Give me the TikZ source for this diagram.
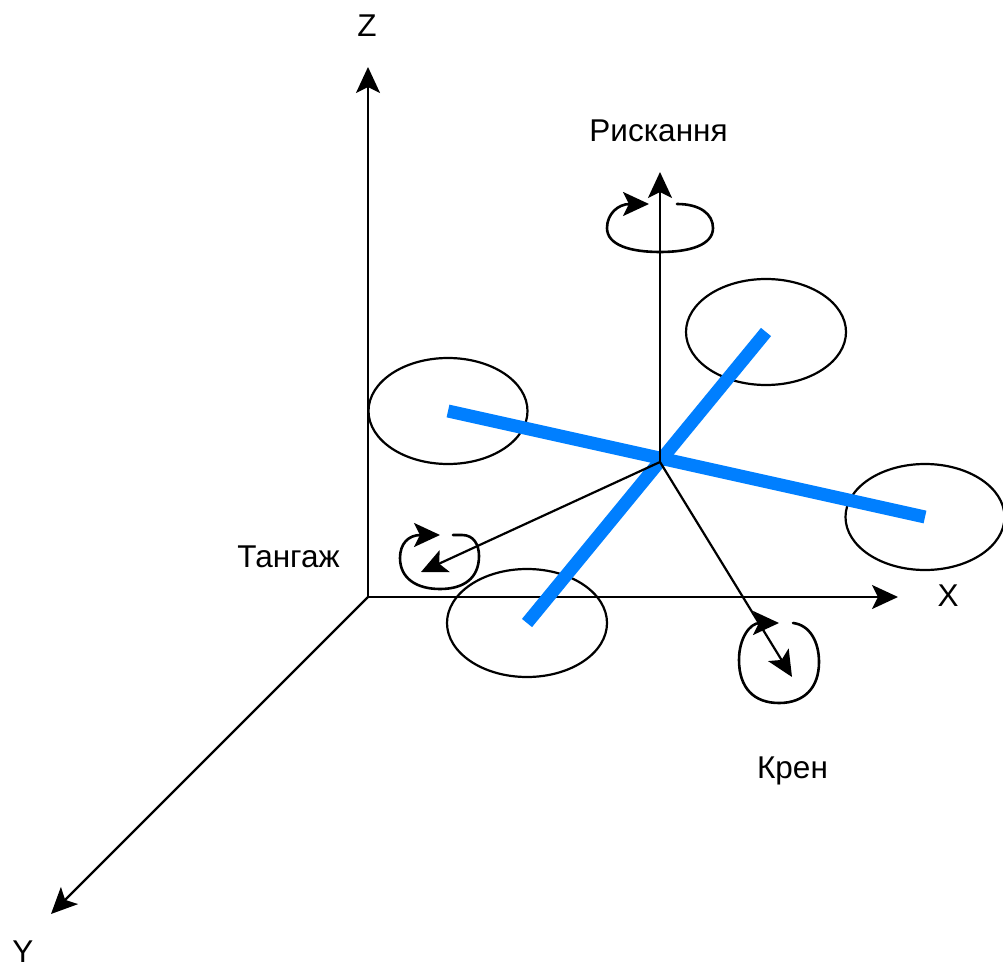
\documentclass[tikz,border=0pt]{standalone}
\usepackage{fontspec}
\setmainfont{Liberation Sans}
\usetikzlibrary{arrows.meta,shapes.geometric}
\definecolor{armblue}{HTML}{007FFF}
\tikzset{
  axisline/.style={line width=2.2pt,black,-{Stealth[length=26pt,width=24pt,inset=6pt]}},
  loopline/.style={line width=2.6pt,black,line cap=round,-{Stealth[length=26pt,width=24pt,inset=6pt]}},
  rotor/.style={draw=black,line width=2.2pt,ellipse,minimum width=#1,inner sep=0pt},
  armline/.style={line width=13pt,color=armblue},
  lbl/.style={font=\fontsize{31.5}{36}\selectfont,text=black,inner sep=0pt,anchor=base}
}
\begin{document}
\begin{tikzpicture}[x=1pt,y=-1pt]
\useasboundingbox (0,0) rectangle (1003,965);
% rotors
\node[rotor=160pt,minimum height=106pt] (rTR) at (766,332) {};
\node[rotor=159pt,minimum height=106pt] (rL) at (448,411) {};
\node[rotor=159pt,minimum height=106pt] (rR) at (925,517) {};
\node[rotor=160pt,minimum height=108pt] (rB) at (527,623) {};
% axes
\coordinate (O) at (368,597);
\coordinate (Ztip) at (368,67);
\coordinate (Xtip) at (898,597);
\coordinate (Ytip) at (51,914);
\coordinate (C) at (660,462);
\coordinate (Up) at (660,172);
\coordinate (Pt) at (421,572);
\coordinate (Rt) at (792,677);
\draw[axisline] (O) -- (Ztip);
\draw[axisline] (O) -- (Xtip);
\draw[axisline] (O) -- (Ytip);
% arms
\coordinate (aL) at (448,411);
\coordinate (aR) at (925,517);
\coordinate (aT) at (766,332);
\coordinate (aB) at (527,623);
\draw[armline] (aL) -- (aR);
\draw[armline] (aB) -- (aT);
\draw[axisline] (C) -- (Up);
\draw[axisline] (C) -- (Pt);
\draw[axisline] (C) -- (Rt);
% rotation loops
\coordinate (ys) at (677,204);
\coordinate (ye) at (649,204);
\draw[loopline] (ys) .. controls (700,204) and (713,214) .. (713,228)
  .. controls (713,245) and (690,252) .. (660,252)
  .. controls (630,252) and (607,245) .. (607,228)
  .. controls (607,214) and (618,204) .. (ye);
\coordinate (ps) at (453,535);
\coordinate (pe) at (440,535);
\draw[loopline] (ps) -- (462,535) .. controls (474,535) and (479,545) .. (479,556)
  .. controls (479,578) and (464,589) .. (440,589)
  .. controls (416,589) and (400,578) .. (400,558)
  .. controls (400,544) and (408,535) .. (pe);
\coordinate (rs) at (793,623);
\coordinate (re) at (779,623);
\draw[loopline] (rs) .. controls (810,625) and (819,642) .. (819,662)
  .. controls (819,688) and (804,703) .. (779,703)
  .. controls (754,703) and (739,688) .. (739,660)
  .. controls (739,638) and (750,623) .. (re);
% labels
\node[lbl] (lz) at (367,37) {Z};
\node[lbl] (ly) at (658.5,142) {Рискання};
\node[lbl] (lp) at (288.5,567) {Тангаж};
\node[lbl] (lx) at (948,606) {X};
\node[lbl] (lr) at (792.5,778) {Крен};
\node[lbl] (lyy) at (23,962) {Y};
\end{tikzpicture}
\end{document}
